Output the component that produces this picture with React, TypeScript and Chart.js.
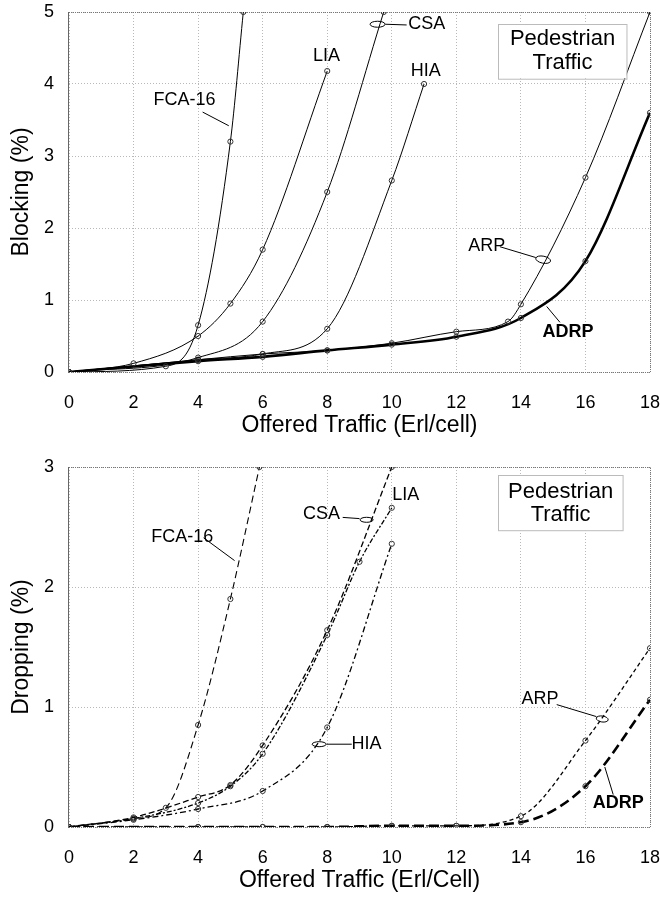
import React, { useEffect, useRef } from 'react';
import { Chart, registerables } from 'chart.js';

Chart.register(...registerables);

const FONT = '"Liberation Sans", Arial, Helvetica, sans-serif';

// ---------- Top chart: Blocking (%) ----------
const blkFcaX = [0, 3, 4, 5, 5.4];
const blkFcaY = [0, 0.08, 0.65, 3.2, 5.0];
const blkLiaX = [0, 2, 4, 5, 6, 8];
const blkLiaY = [0, 0.12, 0.5, 0.95, 1.7, 4.18];
const blkCsaX = [0, 4, 6, 8, 9.75];
const blkCsaY = [0, 0.2, 0.7, 2.5, 5.0];
const blkHiaX = [0, 4, 6, 8, 10, 11];
const blkHiaY = [0, 0.17, 0.25, 0.6, 2.66, 4.0];
const blkArpX = [0, 4, 6, 8, 10, 12, 13.6, 14, 16, 18];
const blkArpY = [0, 0.17, 0.25, 0.3, 0.4, 0.56, 0.7, 0.94, 2.7, 5.0];
const blkAdrpX = [0, 4, 6, 8, 10, 12, 14, 16, 18];
const blkAdrpY = [0, 0.15, 0.21, 0.3, 0.38, 0.49, 0.75, 1.54, 3.6];

// ---------- Bottom chart: Dropping (%) ----------
const drpFcaX = [0, 2, 3, 4, 5, 5.9];
const drpFcaY = [0, 0.07, 0.16, 0.85, 1.9, 3.0];
const drpCsaX = [0, 2, 4, 5, 6, 8, 10];
const drpCsaY = [0, 0.08, 0.25, 0.35, 0.68, 1.64, 3.0];
const drpLiaX = [0, 2, 4, 5, 6, 8, 9, 10];
const drpLiaY = [0, 0.07, 0.2, 0.34, 0.61, 1.6, 2.21, 2.66];
const drpHiaX = [0, 2, 4, 6, 8, 10];
const drpHiaY = [0, 0.06, 0.15, 0.3, 0.83, 2.36];
const drpArpX = [0, 4, 6, 8, 10, 12, 14, 16, 18];
const drpArpY = [0, 0, 0, 0, 0.01, 0.01, 0.09, 0.72, 1.49];
const drpAdrpX = [0, 4, 6, 8, 10, 12, 14, 16, 18];
const drpAdrpY = [0, 0, 0, 0, 0.01, 0.01, 0.04, 0.34, 1.06];

const xTickValues = [0, 2, 4, 6, 8, 10, 12, 14, 16, 18];
const blkYTicks = [0, 1, 2, 3, 4, 5];
const drpYTicks = [0, 1, 2, 3];

type Note = {
  text: string;
  x: number;
  y: number;
  bold?: boolean;
  leader?: number[]; // x1,y1,x2,y2 in data units
  ellipse?: number[]; // cx,cy (data), rx,ry (px), rotation
};

const blkNotes: Note[] = [
  { text: 'FCA-16', x: 3.58, y: 3.78, leader: [4.14, 3.61, 4.95, 3.42] },
  { text: 'LIA', x: 7.98, y: 4.39 },
  { text: 'CSA', x: 11.08, y: 4.83, leader: [10.46, 4.82, 9.8, 4.83], ellipse: [9.56, 4.83, 7.5, 3, 0] },
  { text: 'HIA', x: 11.05, y: 4.18 },
  { text: 'ARP', x: 12.94, y: 1.75, leader: [13.35, 1.74, 14.46, 1.59], ellipse: [14.69, 1.56, 7.5, 3.5, 0.2] },
  { text: 'ADRP', x: 15.46, y: 0.56, bold: true, leader: [15.21, 0.69, 14.8, 0.91] },
];

const drpNotes: Note[] = [
  { text: 'FCA-16', x: 3.51, y: 2.42, leader: [4.17, 2.41, 5.13, 2.22] },
  { text: 'CSA', x: 7.82, y: 2.61, leader: [8.48, 2.58, 9.0, 2.57], ellipse: [9.22, 2.56, 6.5, 2.5, 0] },
  { text: 'LIA', x: 10.43, y: 2.77 },
  { text: 'HIA', x: 9.22, y: 0.69, leader: [8.76, 0.69, 7.98, 0.69], ellipse: [7.75, 0.69, 7, 2.5, 0] },
  { text: 'ARP', x: 14.59, y: 1.07, leader: [15.11, 1.02, 16.34, 0.92], ellipse: [16.52, 0.9, 6, 3, 0.15] },
  { text: 'ADRP', x: 17.02, y: 0.2, bold: true, leader: [16.86, 0.27, 16.6, 0.5] },
];

const blkBox = { x1: 13.3, x2: 17.28, y1: 4.84, y2: 4.08, cx: 15.29, l1: 4.62, l2: 4.29 };
const drpBox = { x1: 13.3, x2: 17.16, y1: 2.93, y2: 2.47, cx: 15.23, l1: 2.79, l2: 2.6 };
const boxLines = ['Pedestrian', 'Traffic'];

function zip(xs: number[], ys: number[]) {
  return xs.map((x, i) => ({ x, y: ys[i] }));
}

function makeDataset(label: string, xs: number[], ys: number[], width: number, dash: number[]) {
  return {
    label,
    data: zip(xs, ys),
    borderColor: '#000',
    borderWidth: width,
    borderDash: dash,
    cubicInterpolationMode: 'monotone' as const,
    pointRadius: 2.6,
    pointBorderWidth: 1,
    pointBorderColor: '#333',
    pointBackgroundColor: 'rgba(255,255,255,0)',
    fill: false,
  };
}

function notesPlugin(notes: Note[], box: any) {
  return {
    id: 'notes',
    beforeDatasetsDraw(chart: any) {
      const ctx = chart.ctx;
      const a = chart.chartArea;
      ctx.save();
      ctx.strokeStyle = '#777';
      ctx.lineWidth = 1;
      ctx.setLineDash([1, 1]);
      ctx.beginPath();
      ctx.moveTo(a.left, a.top + 0.5);
      ctx.lineTo(a.right + 0.5, a.top + 0.5);
      ctx.lineTo(a.right + 0.5, a.bottom + 0.5);
      ctx.lineTo(a.left, a.bottom + 0.5);
      ctx.stroke();
      ctx.setLineDash([]);
      ctx.strokeStyle = '#666';
      ctx.beginPath();
      ctx.moveTo(a.left - 0.5, a.top);
      ctx.lineTo(a.left - 0.5, a.bottom + 1);
      ctx.stroke();
      ctx.restore();
    },
    afterDraw(chart: any) {
      const ctx = chart.ctx;
      const xs = chart.scales.x;
      const ys = chart.scales.y;
      const px = (v: number) => xs.getPixelForValue(v);
      const py = (v: number) => ys.getPixelForValue(v);
      ctx.save();
      // box
      const bx1 = px(box.x1), bx2 = px(box.x2), by1 = py(box.y1), by2 = py(box.y2);
      ctx.fillStyle = '#fff';
      ctx.fillRect(bx1, by1, bx2 - bx1, by2 - by1);
      ctx.strokeStyle = '#bbb';
      ctx.lineWidth = 1;
      ctx.strokeRect(Math.round(bx1) + 0.5, Math.round(by1) + 0.5, bx2 - bx1, by2 - by1);
      ctx.fillStyle = '#000';
      ctx.font = `22px ${FONT}`;
      ctx.textAlign = 'center';
      ctx.textBaseline = 'middle';
      ctx.fillText(boxLines[0], px(box.cx), py(box.l1));
      ctx.fillText(boxLines[1], px(box.cx), py(box.l2));

      // notes
      ctx.strokeStyle = '#000';
      ctx.lineWidth = 1;
      for (const n of notes) {
        ctx.font = `${n.bold ? 'bold ' : ''}18px ${FONT}`;
        ctx.fillStyle = '#000';
        ctx.fillText(n.text, px(n.x), py(n.y));
        if (n.leader) {
          ctx.beginPath();
          ctx.moveTo(px(n.leader[0]), py(n.leader[1]));
          ctx.lineTo(px(n.leader[2]), py(n.leader[3]));
          ctx.stroke();
        }
        if (n.ellipse) {
          ctx.beginPath();
          ctx.ellipse(px(n.ellipse[0]), py(n.ellipse[1]), n.ellipse[2], n.ellipse[3], n.ellipse[4], 0, Math.PI * 2);
          ctx.stroke();
        }
      }
      ctx.restore();
    },
  };
}

function makeConfig(
  datasets: any[],
  yMax: number,
  yTicks: number[],
  yTitle: string,
  xTitle: string,
  layout: { top: number; axisH: number; tickPad: number; titlePad: number },
  notes: Note[],
  box: any
) {
  return {
    type: 'line' as const,
    data: { datasets },
    options: {
      animation: false as const,
      responsive: false,
      devicePixelRatio: 1,
      layout: { padding: { top: layout.top, right: 10, left: 0, bottom: 0 } },
      plugins: { legend: { display: false }, tooltip: { enabled: false } },
      scales: {
        x: {
          type: 'linear' as const,
          min: 0,
          max: 18,
          afterBuildTicks: (s: any) => {
            s.ticks = xTickValues.map((v) => ({ value: v }));
          },
          afterFit: (s: any) => {
            s.height = layout.axisH;
            s.paddingLeft = 0;
            s.paddingRight = 0;
          },
          border: { display: false, dash: [1, 2] },
          grid: { color: '#b8b8b8', lineWidth: 1, drawTicks: false },
          ticks: {
            font: { family: FONT, size: 18 },
            color: '#000',
            padding: layout.tickPad,
            maxRotation: 0,
            autoSkip: false,
          },
          title: {
            display: true,
            text: xTitle,
            font: { family: FONT, size: 23 },
            color: '#000',
            padding: { top: 0, bottom: layout.titlePad },
          },
        },
        y: {
          type: 'linear' as const,
          min: 0,
          max: yMax,
          afterBuildTicks: (s: any) => {
            s.ticks = yTicks.map((v) => ({ value: v }));
          },
          afterFit: (s: any) => {
            s.width = 69;
            s.paddingTop = 0;
            s.paddingBottom = 0;
          },
          border: { display: false, dash: [1, 2] },
          grid: { color: '#b8b8b8', lineWidth: 1, drawTicks: false },
          ticks: {
            font: { family: FONT, size: 18 },
            color: '#000',
            padding: 15,
          },
          title: {
            display: true,
            text: yTitle,
            font: { family: FONT, size: 23 },
            color: '#000',
            padding: { top: 8, bottom: 0 },
          },
        },
      },
      elements: { line: { borderJoinStyle: 'round' as const } },
    },
    plugins: [notesPlugin(notes, box)],
  };
}

function ChartCanvas({ config, width, height }: { config: any; width: number; height: number }) {
  const ref = useRef<HTMLCanvasElement | null>(null);
  useEffect(() => {
    if (!ref.current) return;
    const chart = new Chart(ref.current, config);
    return () => chart.destroy();
  }, [config]);
  return <canvas ref={ref} width={width} height={height} style={{ display: 'block', width, height }} />;
}

const blkConfig = makeConfig(
  [
    makeDataset('FCA-16', blkFcaX, blkFcaY, 1, []),
    makeDataset('LIA', blkLiaX, blkLiaY, 1, []),
    makeDataset('CSA', blkCsaX, blkCsaY, 1, []),
    makeDataset('HIA', blkHiaX, blkHiaY, 1, []),
    makeDataset('ARP', blkArpX, blkArpY, 1, []),
    makeDataset('ADRP', blkAdrpX, blkAdrpY, 2.6, []),
  ],
  5,
  blkYTicks,
  'Blocking (%)',
  'Offered Traffic (Erl/cell)',
  { top: 12, axisH: 445 - 372, tickPad: 20, titlePad: 6 },
  blkNotes,
  blkBox
);

const drpConfig = makeConfig(
  [
    makeDataset('FCA-16', drpFcaX, drpFcaY, 1.1, [7, 4]),
    makeDataset('CSA', drpCsaX, drpCsaY, 1.3, [6, 3]),
    makeDataset('LIA', drpLiaX, drpLiaY, 1.3, [5, 2, 2, 2]),
    makeDataset('HIA', drpHiaX, drpHiaY, 1.3, [6, 3, 2, 3]),
    makeDataset('ARP', drpArpX, drpArpY, 1.3, [4, 3]),
    makeDataset('ADRP', drpAdrpX, drpAdrpY, 2.6, [10, 5]),
  ],
  3,
  drpYTicks,
  'Dropping (%)',
  'Offered Traffic (Erl/Cell)',
  { top: 22, axisH: 452 - 382, tickPad: 20, titlePad: 3 },
  drpNotes,
  drpBox
);

export default function App() {
  return (
    <div style={{ position: 'absolute', left: 0, top: 0, width: 660, height: 897, background: '#fff' }}>
      <ChartCanvas config={blkConfig} width={660} height={445} />
      <ChartCanvas config={drpConfig} width={660} height={452} />
    </div>
  );
}
